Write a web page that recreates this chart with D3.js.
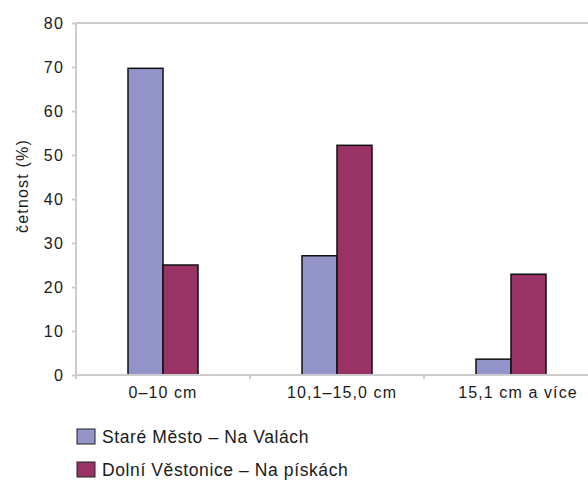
<!DOCTYPE html>
<html><head><meta charset="utf-8">
<script src="https://cdn.jsdelivr.net/npm/d3@7/dist/d3.min.js"></script>
<style>body{margin:0;background:#fff}svg{display:block}text{font-family:"Liberation Sans",Arial,Helvetica,sans-serif;fill:#1a1a1a}</style>
</head><body><svg id="c" width="588" height="481"></svg>
<script>
const categories = ["0–10 cm", "10,1–15,0 cm", "15,1 cm a více"];
const seriesNames = ["Staré Město – Na Valách", "Dolní Věstonice – Na pískách"];
const stareMesto = [69.7, 27.1, 3.6];
const dolniVestonice = [25.0, 52.2, 22.9];
const yTicks = [0, 10, 20, 30, 40, 50, 60, 70, 80];
const colors = ["#9394c9", "#993366"];
const yTitle = "četnost (%)";

(function () {
const svg = d3.select("#c");
const pLeft = 76, pRight = 598, pTop = 23, pBottom = 375;
const x = d3.scaleBand().domain(categories).range([pLeft, pRight]).padding(0);
const y = d3.scaleLinear().domain([0, 80]).range([pBottom, pTop]);
const barW = 35;
const series = [stareMesto, dolniVestonice];
const grid = "#cccccc";
const ff = '"Liberation Sans",Arial,sans-serif';
const labelShift = [0, 5, 7];

// top frame line
svg.append("line").attr("x1", pLeft).attr("x2", pRight).attr("y1", y(80)).attr("y2", y(80)).attr("stroke", grid).attr("stroke-width", 2);

// y axis
const ya = svg.append("g").attr("transform", `translate(${pLeft},0)`).call(d3.axisLeft(y).tickValues(yTicks).tickSize(4).tickPadding(8));
ya.select(".domain").attr("stroke", grid).attr("stroke-width", 2).attr("d", `M0,${pTop}V${pBottom}`);
ya.selectAll(".tick line").attr("stroke", grid).attr("stroke-width", 2);
ya.selectAll(".tick text").attr("font-size", 16).attr("fill", "#1a1a1a").style("font-family", ff).style("letter-spacing", "1.2px");

// bars
series.forEach((vals, si) => {
  svg.append("g").selectAll("rect").data(vals).join("rect")
    .attr("x", (d, i) => x(categories[i]) + x.bandwidth() / 2 - barW + si * barW)
    .attr("y", d => y(d))
    .attr("width", barW)
    .attr("height", d => y(0) - y(d))
    .attr("fill", colors[si])
    .attr("stroke", "#111").attr("stroke-width", 1.5);
});

// x axis
const xa = svg.append("g").attr("transform", `translate(0,${pBottom})`).call(d3.axisBottom(x).tickSize(0).tickPadding(12));
xa.select(".domain").attr("stroke", grid).attr("stroke-width", 2).attr("d", `M${pLeft},0H${pRight}`);
xa.selectAll(".tick text").attr("font-size", 16).attr("fill", "#1a1a1a").style("font-family", ff)
  .style("letter-spacing", "1.1px").attr("dx", (d, i) => labelShift[i]);
svg.append("g").selectAll("line").data(categories.slice(1)).join("line")
  .attr("x1", d => x(d)).attr("x2", d => x(d)).attr("y1", pBottom).attr("y2", pBottom + 4)
  .attr("stroke", grid).attr("stroke-width", 2);
svg.append("line").attr("x1", pLeft).attr("x2", pLeft).attr("y1", pBottom).attr("y2", pBottom + 4).attr("stroke", grid).attr("stroke-width", 2);

// y title
svg.append("text").attr("transform", `translate(28,186) rotate(-90)`)
  .attr("text-anchor", "middle").attr("font-size", 16).style("letter-spacing", "1.2px").text(yTitle);

// legend
const lg = svg.append("g").selectAll("g").data(seriesNames).join("g")
  .attr("transform", (d, i) => `translate(77,${429 + i * 33})`);
lg.append("rect").attr("width", 18).attr("height", 15).attr("fill", (d, i) => colors[i]).attr("stroke", "#222").attr("stroke-width", 1);
lg.append("text").attr("x", 25).attr("y", 13.5).attr("font-size", 17.5).style("letter-spacing", "0.6px").text(d => d);
})();
</script></body></html>
